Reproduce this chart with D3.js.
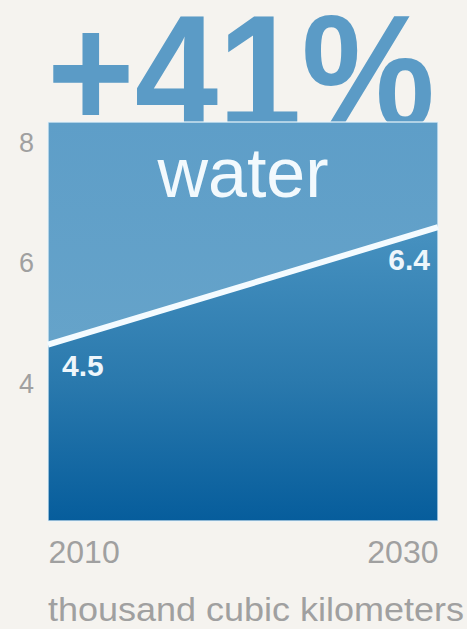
<!DOCTYPE html>
<html>
<head>
<meta charset="utf-8">
<script src="https://cdn.jsdelivr.net/npm/d3@7"></script>
<style>
  html, body { margin: 0; padding: 0; background: #f5f3ef; }
  svg { display: block; }
</style>
</head>
<body>
<script>
// Water demand, thousand cubic kilometers
const years = [2010, 2030];
const demand = [4.5, 6.4];
const yTicks = [4, 6, 8];
const headline = "+41%";
const seriesName = "water";
const unitLabel = "thousand cubic kilometers";

const W = 467, H = 629;
const plot = { left: 48, right: 438, top: 122, bottom: 521 };

const svg = d3.select("body").append("svg")
  .attr("width", W).attr("height", H);

const x = d3.scaleLinear().domain(d3.extent(years)).range([plot.left, plot.right]);
const y = d3.scaleLinear().domain([1.65, 8.1]).range([plot.bottom, plot.top]);

const defs = svg.append("defs");
const bgGrad = defs.append("linearGradient").attr("id", "bgGrad")
  .attr("x1", 0).attr("y1", 0).attr("x2", 0).attr("y2", 1);
bgGrad.append("stop").attr("offset", "0%").attr("stop-color", "#5e9ec8");
bgGrad.append("stop").attr("offset", "100%").attr("stop-color", "#6ba7cb");

const areaGrad = defs.append("linearGradient").attr("id", "areaGrad")
  .attr("gradientUnits", "userSpaceOnUse")
  .attr("x1", 0).attr("y1", plot.top + 90).attr("x2", 0).attr("y2", plot.bottom);
areaGrad.append("stop").attr("offset", "0%").attr("stop-color", "#4a94c2");
areaGrad.append("stop").attr("offset", "55%").attr("stop-color", "#2a79ad");
areaGrad.append("stop").attr("offset", "100%").attr("stop-color", "#065d9c");

// Headline figure, its lower part tucked behind the panel
const clip = defs.append("clipPath").attr("id", "headClip");
clip.append("rect").attr("x", 0).attr("y", 0).attr("width", W).attr("height", plot.top);

svg.append("text")
  .attr("clip-path", "url(#headClip)")
  .attr("x", 47).attr("y", 128)
  .attr("font-family", "Liberation Sans, Arial, sans-serif")
  .attr("font-weight", "bold")
  .attr("font-size", 161)
  .attr("textLength", 388)
  .attr("lengthAdjust", "spacingAndGlyphs")
  .attr("fill", "#5b9bc6")
  .text(headline);

// Panel background
svg.append("rect")
  .attr("x", plot.left).attr("y", plot.top)
  .attr("width", plot.right - plot.left).attr("height", plot.bottom - plot.top)
  .attr("fill", "url(#bgGrad)");

const pts = years.map((yr, i) => ({ year: yr, value: demand[i] }));

// Area under the demand line
svg.append("path")
  .datum(pts)
  .attr("fill", "url(#areaGrad)")
  .attr("d", d3.area().x(d => x(d.year)).y0(plot.bottom).y1(d => y(d.value)));

// Panel outline
svg.append("rect")
  .attr("x", plot.left).attr("y", plot.top)
  .attr("width", plot.right - plot.left).attr("height", plot.bottom - plot.top)
  .attr("fill", "none")
  .attr("stroke", "#eaf4fa").attr("stroke-width", 1.5).attr("stroke-opacity", 0.8);

// Demand line
svg.append("path")
  .datum(pts)
  .attr("fill", "none")
  .attr("stroke", "#f4fbff")
  .attr("stroke-width", 6)
  .attr("d", d3.line().x(d => x(d.year)).y(d => y(d.value)));

// Series name
svg.append("text")
  .attr("x", 243).attr("y", 197)
  .attr("text-anchor", "middle")
  .attr("font-family", "Liberation Sans, Arial, sans-serif")
  .attr("font-size", 70)
  .attr("fill", "#f2f9fd")
  .text(seriesName);

// Value labels
const valLabels = svg.append("g")
  .attr("font-family", "Liberation Sans, Arial, sans-serif")
  .attr("font-weight", "bold")
  .attr("font-size", 30)
  .attr("fill", "#eef6fb");
valLabels.append("text")
  .attr("x", x(years[0]) + 14).attr("y", y(demand[0]) + 31)
  .text(demand[0].toFixed(1));
valLabels.append("text")
  .attr("x", x(years[1]) - 8).attr("y", y(demand[1]) + 43)
  .attr("text-anchor", "end")
  .text(demand[1].toFixed(1));

// Y axis labels
const yAxis = svg.append("g")
  .attr("transform", `translate(${plot.left},0)`)
  .call(d3.axisLeft(y).tickValues(yTicks).tickSize(0).tickPadding(14).tickFormat(d3.format("d")));
yAxis.select(".domain").remove();
yAxis.selectAll("text")
  .attr("font-family", "Liberation Sans, Arial, sans-serif")
  .attr("font-size", 27)
  .attr("fill", "#a0a0a0")
  .attr("dy", (d) => d === 8 ? "0.85em" : d === 6 ? "0.72em" : "0.62em");

// X axis labels
const xAxis = svg.append("g")
  .attr("transform", `translate(0,${plot.bottom})`)
  .call(d3.axisBottom(x).tickValues(years).tickSize(0).tickPadding(19).tickFormat(d3.format("d")));
xAxis.select(".domain").remove();
xAxis.selectAll("text")
  .attr("font-family", "Liberation Sans, Arial, sans-serif")
  .attr("font-size", 32)
  .attr("fill", "#a0a0a0")
  .attr("text-anchor", (d, i) => i === 0 ? "start" : "end");

// Unit label
svg.append("text")
  .attr("x", plot.left).attr("y", 621)
  .attr("font-family", "Liberation Sans, Arial, sans-serif")
  .attr("font-size", 34)
  .attr("textLength", 416)
  .attr("lengthAdjust", "spacingAndGlyphs")
  .attr("fill", "#a0a0a0")
  .text(unitLabel);
</script>
</body>
</html>
